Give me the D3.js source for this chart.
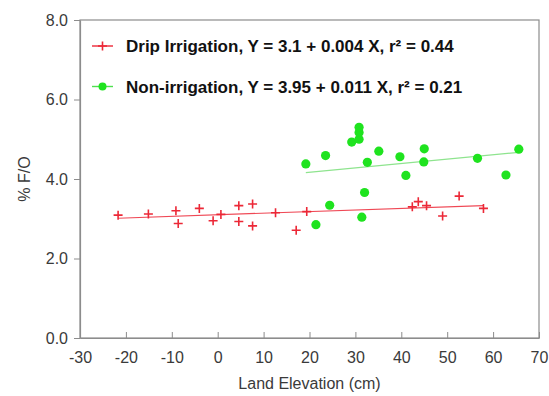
<!DOCTYPE html>
<html>
<head>
<meta charset="utf-8">
<script src="https://cdn.jsdelivr.net/npm/d3@7"></script>
<style>
  body { margin: 0; background: #fff; }
  svg { font-family: "Liberation Sans", Arial, sans-serif; }
</style>
</head>
<body>
<div id="chart"></div>
<script>
// drip irrigation points (land elevation cm, %F/O)
const dripX = [-21.7, -15.1, -9.1, -8.6, -4.0, -1.0, 0.7, 4.6, 4.6, 7.6, 7.6, 12.6, 17.1, 19.4, 42.4, 43.7, 45.5, 49.0, 52.6, 57.9];
const dripY = [3.09, 3.12, 3.20, 2.88, 3.26, 2.95, 3.11, 3.33, 2.93, 3.37, 2.82, 3.15, 2.71, 3.18, 3.30, 3.43, 3.33, 3.07, 3.57, 3.26];

// non-irrigation points
const nonX = [19.2, 23.5, 29.2, 30.8, 30.8, 30.8, 32.6, 35.1, 39.7, 41.0, 45.0, 44.9, 56.6, 62.8, 65.6, 32.0, 24.4, 21.4, 31.4];
const nonY = [4.38, 4.59, 4.93, 5.00, 5.17, 5.30, 4.42, 4.70, 4.56, 4.09, 4.76, 4.43, 4.52, 4.10, 4.75, 3.66, 3.34, 2.85, 3.04];

// fitted lines: intercept, slope, x range
const dripFit = {a: 3.1, b: 0.004, from: -21.7, to: 57.9};
const nonFit = {a: 3.95, b: 0.011, from: 19.2, to: 65.6};

const legendLabels = [
  'Drip Irrigation, Y = 3.1 + 0.004 X, r\u00b2 = 0.44',
  'Non-irrigation, Y = 3.95 + 0.011 X, r\u00b2 = 0.21'
];

const xTicks = [-30, -20, -10, 0, 10, 20, 30, 40, 50, 60, 70];
const yTicks = [0, 2, 4, 6, 8];

const red = '#ec2837', green = '#1fe31f';

const margin = {top: 20, right: 10, bottom: 58, left: 80},
  width = 549 - margin.left - margin.right,
  height = 396 - margin.top - margin.bottom;

const svg = d3.select('#chart').append('svg')
  .attr('width', 549)
  .attr('height', 396)
  .append('g')
  .attr('transform', 'translate(' + margin.left + ',' + margin.top + ')');

const x = d3.scaleLinear().domain([-30, 70]).range([0, width]);
const y = d3.scaleLinear().domain([0, 8]).range([height, 0]);

// frame
svg.append('rect')
  .attr('width', width).attr('height', height)
  .attr('fill', 'none').attr('stroke', '#8c8c8c').attr('stroke-width', 1.2);

const xAxis = svg.append('g')
  .attr('transform', 'translate(0,' + height + ')')
  .call(d3.axisBottom(x).tickValues(xTicks).tickFormat(d => String(d))
    .tickSizeInner(-6).tickSizeOuter(0).tickPadding(14));

const yAxis = svg.append('g')
  .call(d3.axisLeft(y).tickValues(yTicks).tickFormat(d => d.toFixed(1))
    .tickSize(6).tickSizeOuter(0).tickPadding(6));

[xAxis, yAxis].forEach(g => {
  g.select('.domain').attr('stroke', '#8c8c8c').attr('stroke-width', 1.2);
  g.selectAll('.tick line').attr('stroke', '#8c8c8c');
  g.selectAll('.tick text').attr('fill', '#3a3a3a').style('font-size', '16px');
});

// axis titles
svg.append('text')
  .attr('x', width / 2).attr('y', height + 51)
  .attr('text-anchor', 'middle').attr('fill', '#3a3a3a').style('font-size', '16px')
  .text('Land Elevation (cm)');

svg.append('text')
  .attr('transform', 'translate(-50,' + height / 2 + ') rotate(-90)')
  .attr('text-anchor', 'middle').attr('fill', '#3a3a3a').style('font-size', '16px')
  .text('% F/O');

const line = d3.line().x(d => x(d[0])).y(d => y(d[1]));
function fitPts(f) { return [[f.from, f.a + f.b * f.from], [f.to, f.a + f.b * f.to]]; }

svg.append('path').attr('d', line(fitPts(dripFit)))
  .attr('stroke', red).attr('stroke-width', 1.2).attr('fill', 'none').attr('opacity', 0.85);
svg.append('path').attr('d', line(fitPts(nonFit)))
  .attr('stroke', '#8ee48e').attr('stroke-width', 1.2).attr('fill', 'none');

function drawPlus(g, cx, cy) {
  g.append('path')
    .attr('d', 'M' + (cx - 4.5) + ',' + cy + 'H' + (cx + 4.5) + 'M' + cx + ',' + (cy - 4.5) + 'V' + (cy + 4.5))
    .attr('stroke', red).attr('stroke-width', 1.6).attr('fill', 'none');
}

const dripData = dripX.map((v, i) => [v, dripY[i]]);
const nonData = nonX.map((v, i) => [v, nonY[i]]);

svg.append('g').selectAll('circle')
  .data(nonData)
  .enter().append('circle')
  .attr('cx', d => x(d[0])).attr('cy', d => y(d[1]))
  .attr('r', 4.6).attr('fill', green);

const dripG = svg.append('g');
dripData.forEach(d => drawPlus(dripG, x(d[0]), y(d[1])));

// legend
const legend = svg.append('g');
legendLabels.forEach((t, i) => {
  const ly = 26 + i * 40.5;
  legend.append('line')
    .attr('x1', 12).attr('x2', 33).attr('y1', ly).attr('y2', ly)
    .attr('stroke', i === 0 ? red : '#4fe04f').attr('stroke-width', 1.4);
  if (i === 0) drawPlus(legend, 22.5, ly);
  else legend.append('circle').attr('cx', 22.5).attr('cy', ly).attr('r', 4).attr('fill', green);
  legend.append('text')
    .attr('x', 46).attr('y', ly + 6)
    .attr('fill', '#111').style('font-size', '17px').style('font-weight', 'bold')
    .text(t);
});
</script>
</body>
</html>
